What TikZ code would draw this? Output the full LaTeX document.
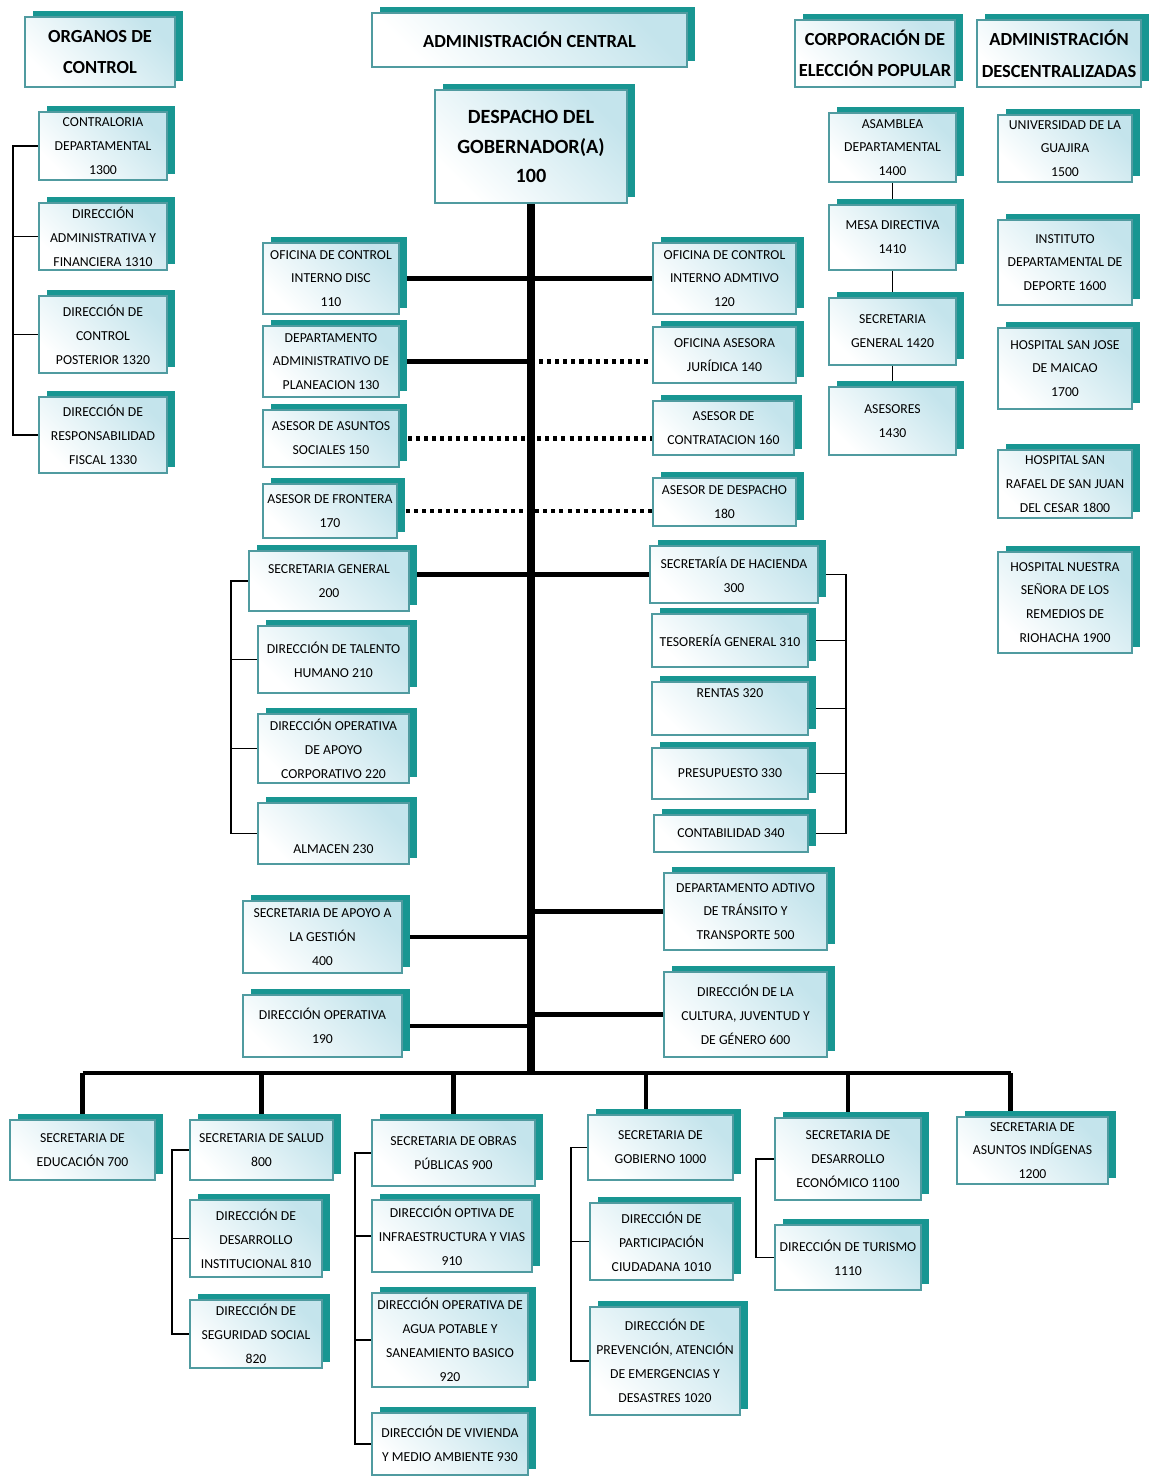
\documentclass[tikz,border=0pt]{standalone}
\usepackage{fontspec}
\setmainfont{Carlito}
\usetikzlibrary{shadows,backgrounds}

\definecolor{tealshadow}{RGB}{24,150,146}
\definecolor{tealedge}{RGB}{80,155,160}
\definecolor{boxtint}{RGB}{196,228,236}

\begin{document}
\begin{tikzpicture}[
        x=0.02cm, y=-0.02cm,
        unit/.style={draw=tealedge, line width=0.9pt, inner sep=0pt,
            top color=boxtint, bottom color=white, shading angle=-45,
            general shadow={fill=tealshadow, shadow xshift=4.5pt, shadow yshift=3.4pt}},
        small/.style={align=center, font=\fontsize{7.8}{13.6}\selectfont},
        big/.style={align=center, font=\bfseries\fontsize{10.5}{18}\selectfont},
        trunk/.style={line width=4.5pt},
        branch/.style={line width=2.6pt},
        advisory/.style={line width=2.6pt, dash pattern=on 2.3pt off 2.3pt},
        link/.style={line width=0.8pt},
    ]
        \useasboundingbox (0,0) rectangle (1149,1478);

        % headers
        \foreach \name/\xa/\ya/\xb/\yb/\txt in {
            hOrg/25/17/175/87/{ORGANOS DE\\CONTROL},
            hCentral/372/13/687/67/{ADMINISTRACIÓN CENTRAL},
            hCorp/795/20/955/87/{CORPORACIÓN DE\\ELECCIÓN POPULAR},
            hDesc/977/20/1141/87/{ADMINISTRACIÓN\\DESCENTRALIZADAS}}
        {
            \node[unit, minimum width={(\xb-\xa)*0.02cm}, minimum height={(\yb-\ya)*0.02cm}] (\name) at ({(\xa+\xb)/2},{(\ya+\yb)/2}) {};
            \node[big] at (\name) {\txt};
        }

        \node[unit, minimum width=3.84cm, minimum height=2.26cm] (d100) at (531,146.5) {};
        \node[align=center, font=\bfseries\fontsize{11.5}{17}\selectfont] at (d100) {DESPACHO DEL\\GOBERNADOR(A)\\100};

        % units
        \foreach \name/\xa/\ya/\xb/\yb/\txt in {
            c1300/39/112/167/180/{CONTRALORIA\\DEPARTAMENTAL\\1300},
            c1310/39/203/167/270/{DIRECCIÓN\\ADMINISTRATIVA Y\\FINANCIERA 1310},
            c1320/39/296/167/373/{DIRECCIÓN DE\\CONTROL\\POSTERIOR 1320},
            c1330/39/397/167/473/{DIRECCIÓN DE\\RESPONSABILIDAD\\FISCAL 1330},
            u110/263/243/399/314/{OFICINA DE CONTROL\\INTERNO DISC\\110},
            u130/263/326/399/397/{DEPARTAMENTO\\ADMINISTRATIVO DE\\PLANEACION 130},
            u150/263/410/399/467/{ASESOR DE ASUNTOS\\SOCIALES 150},
            u170/263/484/397/538/{ASESOR DE FRONTERA\\170},
            u120/653/243/796/314/{OFICINA DE CONTROL\\INTERNO ADMTIVO\\120},
            u140/653/327/796/383/{OFICINA ASESORA\\JURÍDICA 140},
            u160/653/401/794/455/{ASESOR DE\\CONTRATACION 160},
            u180/653/478/796/526/{ASESOR DE DESPACHO\\180},
            s200/249/551/409/611/{SECRETARIA GENERAL\\200},
            s210/258/626/409/693/{DIRECCIÓN DE TALENTO\\HUMANO 210},
            s220/258/714/409/783/{DIRECCIÓN OPERATIVA\\DE APOYO\\CORPORATIVO 220},
            s230/258/803/409/864/{\strut\\ALMACEN 230},
            s300/650/546/818/603/{SECRETARÍA DE HACIENDA\\300},
            s310/652/614/808/667/{TESORERÍA GENERAL 310},
            s320/652/682/808/735/{RENTAS 320\\\strut},
            s330/652/748/808/799/{PRESUPUESTO 330},
            s340/654/815/808/852/{CONTABILIDAD 340},
            s400/243/901/402/973/{SECRETARIA DE APOYO A\\LA GESTIÓN\\400},
            u190/243/995/402/1057/{DIRECCIÓN OPERATIVA\\190},
            s500/664/873/827/950/{DEPARTAMENTO ADTIVO\\DE TRÁNSITO Y\\TRANSPORTE 500},
            s600/664/972/827/1057/{DIRECCIÓN DE LA\\CULTURA, JUVENTUD Y\\DE GÉNERO 600},
            a1400/829/113/956/182/{ASAMBLEA\\DEPARTAMENTAL\\1400},
            a1410/829/205/956/270/{MESA DIRECTIVA\\1410},
            a1420/829/298/956/365/{SECRETARIA\\GENERAL 1420},
            a1430/829/387/956/455/{ASESORES\\1430},
            e1500/998/115/1132/182/{UNIVERSIDAD DE LA\\GUAJIRA\\1500},
            e1600/998/220/1132/305/{INSTITUTO\\DEPARTAMENTAL DE\\DEPORTE 1600},
            e1700/998/328/1132/409/{HOSPITAL SAN JOSE\\DE MAICAO\\1700},
            e1800/998/450/1132/518/{HOSPITAL SAN\\RAFAEL DE SAN JUAN\\DEL CESAR 1800},
            e1900/998/552/1132/653/{HOSPITAL NUESTRA\\SEÑORA DE LOS\\REMEDIOS DE\\RIOHACHA 1900},
            b700/10/1120/155/1180/{SECRETARIA DE\\EDUCACIÓN 700},
            b800/190/1120/333/1180/{SECRETARIA DE SALUD\\800},
            b810/190/1200/322/1277/{DIRECCIÓN DE\\DESARROLLO\\INSTITUCIONAL 810},
            b820/190/1300/322/1368/{DIRECCIÓN DE\\SEGURIDAD SOCIAL\\820},
            b900/372/1120/535/1186/{SECRETARIA DE OBRAS\\PÚBLICAS 900},
            b910/372/1200/532/1272/{DIRECCIÓN OPTIVA DE\\INFRAESTRUCTURA Y VIAS\\910},
            b920/372/1293/528/1387/{DIRECCIÓN OPERATIVA DE\\AGUA POTABLE Y\\SANEAMIENTO BASICO\\920},
            b930/372/1413/528/1475/{DIRECCIÓN DE VIVIENDA\\Y MEDIO AMBIENTE 930},
            b1000/588/1115/733/1180/{SECRETARIA DE\\GOBIERNO 1000},
            b1010/590/1203/733/1280/{DIRECCIÓN DE\\PARTICIPACIÓN\\CIUDADANA 1010},
            b1020/590/1307/740/1415/{DIRECCIÓN DE\\PREVENCIÓN, ATENCIÓN\\DE EMERGENCIAS Y\\DESASTRES 1020},
            b1100/775/1118/921/1200/{SECRETARIA DE\\DESARROLLO\\ECONÓMICO 1100},
            b1110/775/1225/921/1290/{DIRECCIÓN DE TURISMO\\1110},
            b1200/957/1117/1108/1184/{SECRETARIA DE\\ASUNTOS INDÍGENAS\\1200}}
        {
            \node[unit, minimum width={(\xb-\xa)*0.02cm}, minimum height={(\yb-\ya)*0.02cm}] (\name) at ({(\xa+\xb)/2},{(\ya+\yb)/2}) {};
            \node[small] at (\name) {\txt};
        }

        \coordinate (drop1000) at ([xshift=-8.2pt]b1000.north);
        \coordinate (drop1200) at ([xshift=-12.5pt]b1200.north);
        \coordinate (bus) at (0,1073);
        \coordinate (orgbar) at (13,0);
        \coordinate (genbar) at (231,0);
        \coordinate (habar) at (846,0);
        \coordinate (salbar) at (172,0);
        \coordinate (obrbar) at (355,0);
        \coordinate (gobbar) at (571,0);
        \coordinate (ecobar) at (756,0);

        \begin{scope}[on background layer]
            % thin brackets
            \draw[link] (c1300.west) -- (c1300.west -| orgbar) |- (c1330.west);
            \foreach \n in {c1310,c1320} \draw[link] (\n.west) -- (\n.west -| orgbar);
            \draw[link] (s200.west) -- (s200.west -| genbar) |- (s230.west);
            \foreach \n in {s210,s220} \draw[link] (\n.west) -- (\n.west -| genbar);
            \draw[link] (s300.east) -- (s300.east -| habar) |- (s340.east);
            \foreach \n in {s310,s320,s330} \draw[link] (\n.east) -- (\n.east -| habar);
            \draw[link] (b800.west) -- (b800.west -| salbar) |- (b820.west);
            \draw[link] (b810.west) -- (b810.west -| salbar);
            \draw[link] (b900.west) -- (b900.west -| obrbar) |- (b930.west);
            \foreach \n in {b910,b920} \draw[link] (\n.west) -- (\n.west -| obrbar);
            \draw[link] (b1000.west) -- (b1000.west -| gobbar) |- (b1020.west);
            \draw[link] (b1010.west) -- (b1010.west -| gobbar);
            \draw[link] (b1100.west) -- (b1100.west -| ecobar) |- (b1110.west);
            \draw[link] (a1400.south) -- (a1410.north);
            \draw[link] (a1410.south) -- (a1420.north);
            \draw[link] (a1420.south) -- (a1430.north);

            % advisory lines
            \draw[advisory] (d100.south |- u130.east) -- (u130.east -| u140.west);
            \draw[advisory] (u150.east) -- (u150.east -| u160.west);
            \draw[advisory] (u170.east) -- (u170.east -| u180.west);

            % branches off the trunk
            \foreach \n in {u110,u130,s400,u190} \draw[branch] (\n.east) -- (\n.east -| d100.south);
            \foreach \n in {u120,s500,s600} \draw[branch] (\n.west) -- (\n.west -| d100.south);
            \draw[branch] (s300.west) -- (s300.west -| s200.east);

            % trunk and bus
            \draw[trunk] (d100.south) -- (d100.south |- bus);
            \draw[branch] (b700.north |- bus) -- (drop1200 |- bus);
            \foreach \n in {b700.north,b800.north,b900.north,drop1000,b1100.north,drop1200}
                \draw[branch] (\n |- bus) -- (\n);
        \end{scope}
    \end{tikzpicture}
\end{document}
